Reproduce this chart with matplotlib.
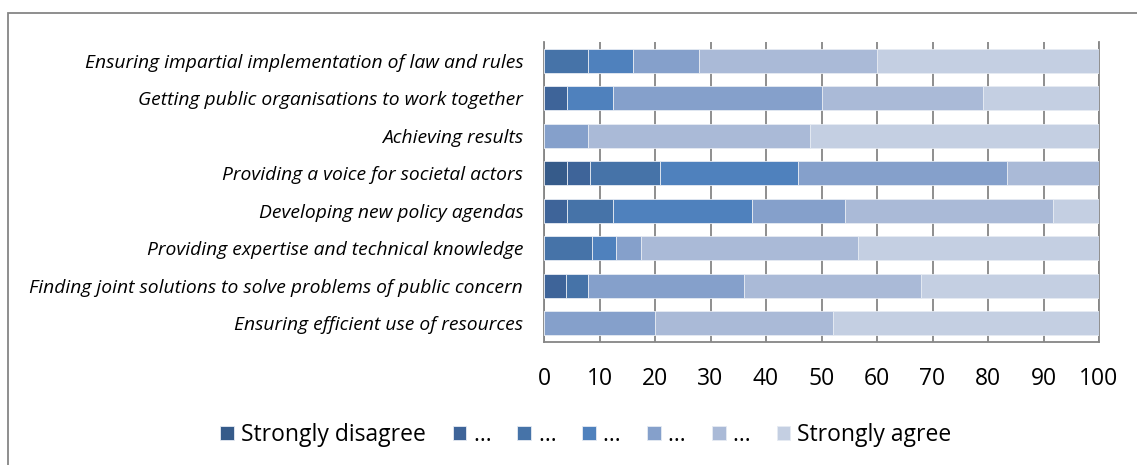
import matplotlib
matplotlib.use("Agg")
import matplotlib.pyplot as plt
from matplotlib.patches import Rectangle
import numpy as np

categories = [
    "Ensuring impartial implementation of law and rules",
    "Getting public organisations to work together",
    "Achieving results",
    "Providing a voice for societal actors",
    "Developing new policy agendas",
    "Providing expertise and technical knowledge",
    "Finding joint solutions to solve problems of public concern",
    "Ensuring efficient use of resources",
]
series_names = ["Strongly disagree", "…", "…", "…", "…", "…", "Strongly agree"]

s1 = [0, 0, 0, 4.17, 0, 0, 0, 0]
s2 = [0, 4.17, 0, 4.17, 4.17, 0, 4, 0]
s3 = [8, 0, 0, 12.5, 8.33, 8.7, 4, 0]
s4 = [8, 8.33, 0, 25, 25, 4.35, 0, 0]
s5 = [12, 37.5, 8, 37.5, 16.67, 4.35, 28, 20]
s6 = [32, 29.17, 40, 16.67, 37.5, 39.13, 32, 32]
s7 = [40, 20.83, 52, 0, 8.33, 43.48, 32, 48]
series = [s1, s2, s3, s4, s5, s6, s7]
xticks = [0, 10, 20, 30, 40, 50, 60, 70, 80, 90, 100]

colors = ["#365b8a", "#3e6499", "#4673a8", "#4f81bd", "#85a0cb", "#aabad7", "#c4cfe2"]

plt.rcParams['font.family'] = ['Open Sans', 'DejaVu Sans']

fig = plt.figure(figsize=(11.37, 4.65), dpi=100)
ax = fig.add_axes([544/1137, 1-342/465, (1099-544)/1137, 300/465])

y = np.arange(len(categories))[::-1]
left = np.zeros(len(categories))
handles = []
for vals, c, name in zip(series, colors, series_names):
    v = np.array(vals, dtype=float)
    b = ax.barh(y, v, left=left, height=0.65, color=c, edgecolor="#e6ebf3",
                linewidth=0.6, label=name, zorder=3)
    handles.append(b)
    left += v

ax.set_xlim(0, 100)
ax.set_ylim(-0.5, len(categories) - 0.5)
ax.set_xticks(xticks)
ax.set_xticklabels([str(t) for t in xticks], fontsize=16.5)
ax.set_yticks(y)
ax.set_yticklabels(categories, fontsize=13.9, style='italic')
ax.tick_params(axis='y', length=0, pad=15)
ax.tick_params(axis='x', length=0, pad=18)
ax.grid(axis='x', color='#868686', linewidth=1.3, zorder=0)
for s in ['top']:
    ax.spines[s].set_visible(False)
for s in ['left', 'bottom', 'right']:
    ax.spines[s].set_color('#868686')
    ax.spines[s].set_linewidth(1.3)

fig.patches.append(Rectangle((8/1137, -0.1), 1.2, 1 - 13/465 + 0.1,
                             transform=fig.transFigure, fill=False,
                             edgecolor='#868686', linewidth=1.3))

leg = fig.legend(handles=handles, labels=series_names, ncol=7, loc='center',
                 bbox_to_anchor=(586/1137, 1-435/465), frameon=False,
                 fontsize=16.5, handlelength=0.6, handleheight=0.6,
                 handletextpad=0.3, columnspacing=1.16, borderaxespad=0)

fig.savefig("out.png", dpi=100)
